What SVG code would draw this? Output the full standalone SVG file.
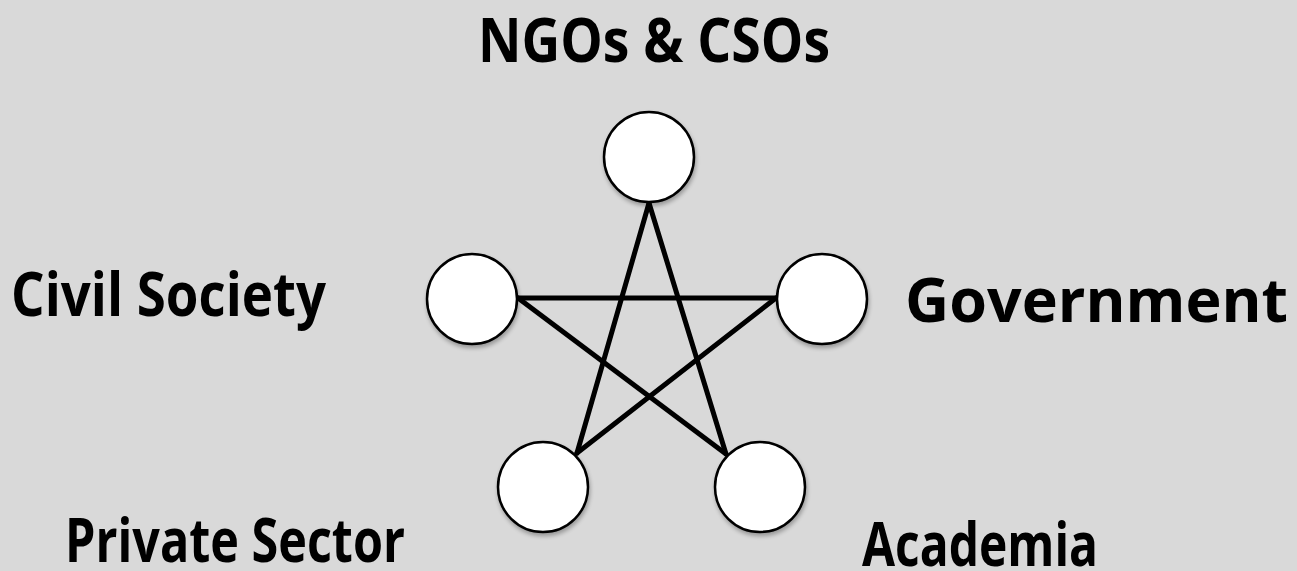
<svg xmlns="http://www.w3.org/2000/svg" width="1297" height="571" viewBox="0 0 1297 571">
<style>
.lbl{font-family:"Open Sans","Liberation Sans",sans-serif;font-weight:bold;font-size:60px;fill:#000}
.node circle{fill:#fff;stroke:#000;stroke-width:2.5}
.edges line{stroke:#000;stroke-width:5;stroke-linecap:round}
</style>
<defs>
<filter id="sh" x="-20%" y="-20%" width="150%" height="150%">
<feGaussianBlur in="SourceAlpha" stdDeviation="2"/>
<feOffset dx="1" dy="3"/>
<feComponentTransfer><feFuncA type="linear" slope="0.3"/></feComponentTransfer>
<feMerge><feMergeNode/><feMergeNode in="SourceGraphic"/></feMerge>
</filter>
</defs>
<rect width="1297" height="571" fill="#d9d9d9"/>
<g id="connectors" class="edges">
<line x1="649" y1="203" x2="577" y2="453"/>
<line x1="649" y1="203" x2="726" y2="454"/>
<line x1="518" y1="298" x2="776" y2="298"/>
<line x1="518" y1="298" x2="726" y2="454"/>
<line x1="776" y1="298" x2="577" y2="453"/>
</g>
<g id="node-ngos" class="node"><circle cx="649" cy="157" r="45" filter="url(#sh)"/><text class="lbl" x="478" y="62" textLength="352" lengthAdjust="spacingAndGlyphs">NGOs &amp; CSOs</text></g>
<g id="node-civil" class="node"><circle cx="472" cy="299" r="45" filter="url(#sh)"/><text class="lbl" x="11" y="316" textLength="315" lengthAdjust="spacingAndGlyphs">Civil Society</text></g>
<g id="node-gov" class="node"><circle cx="822" cy="299" r="45" filter="url(#sh)"/><text class="lbl" x="905" y="322" textLength="383" lengthAdjust="spacingAndGlyphs">Government</text></g>
<g id="node-private" class="node"><circle cx="543" cy="487" r="45" filter="url(#sh)"/><text class="lbl" x="65" y="562" textLength="340" lengthAdjust="spacingAndGlyphs">Private Sector</text></g>
<g id="node-academia" class="node"><circle cx="760" cy="487" r="45" filter="url(#sh)"/><text class="lbl" x="862" y="566" textLength="236" lengthAdjust="spacingAndGlyphs">Academia</text></g>
</svg>
